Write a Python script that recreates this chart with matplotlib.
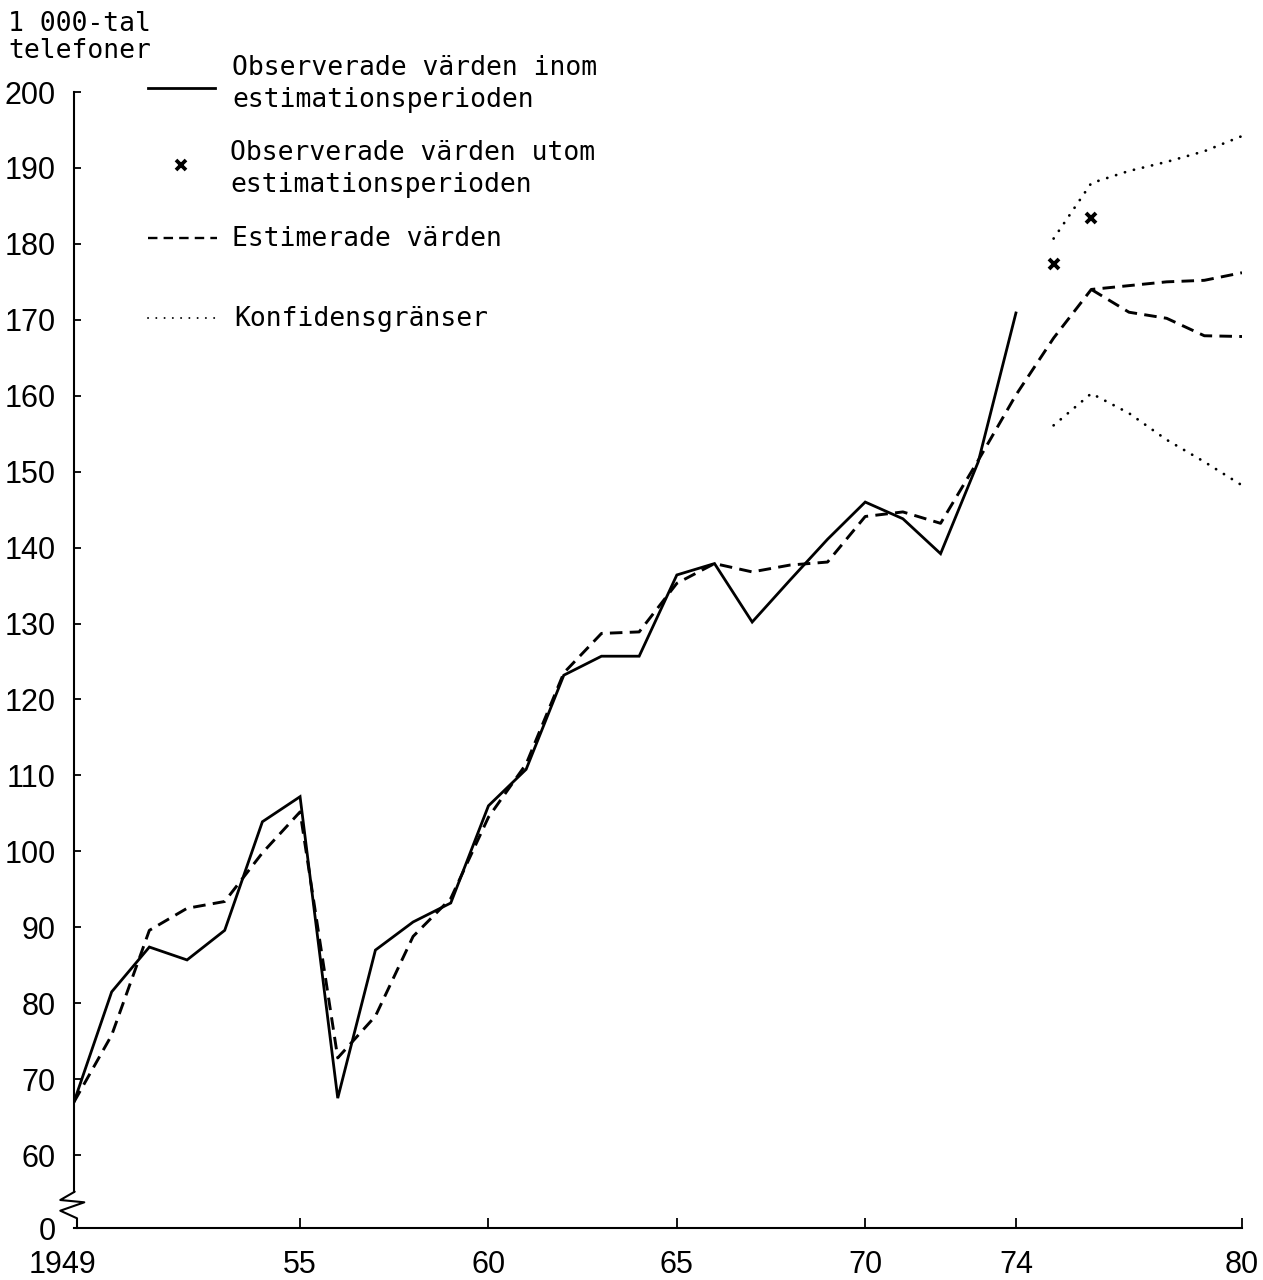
import matplotlib
matplotlib.use("Agg")
import matplotlib.pyplot as plt
import numpy as np
from matplotlib.transforms import ScaledTranslation

# observerade värden inom estimationsperioden (1000-tal telefoner)
obs_years = np.arange(1949, 1975)
observed = [67.0, 81.5, 87.4, 85.7, 89.6, 103.9, 107.2, 67.5, 87.0, 90.7,
            93.2, 106.0, 110.8, 123.2, 125.7, 125.7, 136.4, 137.9, 130.2, 135.7,
            141.1, 146.0, 143.8, 139.2, 151.3, 170.9]

# observerade värden utom estimationsperioden
out_years = [1975, 1976]
observed_out = [177.4, 183.4]

# estimerade värden
est_years = np.arange(1949, 1981)
estimated = [67.0, 75.8, 89.6, 92.5, 93.4, 99.8, 105.2, 72.8, 78.3, 88.8,
             93.8, 104.5, 111.5, 123.5, 128.7, 128.9, 135.3, 137.9, 136.8, 137.7,
             138.1, 144.1, 144.7, 143.2, 151.5, 160.1, 167.6, 174.0,
             174.5, 175.0, 175.2, 176.2]
alt_years = np.arange(1976, 1981)
estimated_alt = [174.0, 171.0, 170.2, 167.9, 167.8]

# konfidensgränser
conf_years = np.arange(1975, 1981)
conf_upper = [180.7, 188.0, 189.6, 190.8, 192.2, 194.2]
conf_lower = [156.1, 160.3, 157.7, 154.2, 151.3, 148.2]

xtick_years = [1949, 1955, 1960, 1965, 1970, 1974, 1980]
xtick_labels = ["1949", "55", "60", "65", "70", "74", "80"]
ytick_vals = list(range(60, 201, 10))
y_base = 50.4   # where the broken axis puts 0

mono = "DejaVu Sans Mono"
num_font = ["Liberation Sans", "DejaVu Sans"]

fig = plt.figure(figsize=(12.63, 12.8), dpi=100)
ax = fig.add_axes([74 / 1263, 52 / 1280, 1168 / 1263, 1136 / 1280])

lw = 2.0
dots = dict(color="black", lw=2.0, dashes=(0.05, 3.3), dash_capstyle="round")
ax.plot(obs_years, observed, color="black", lw=lw, solid_joinstyle="miter")
ax.plot(est_years, estimated, color="black", lw=2.1, dashes=(4.3, 2.5))
ax.plot(alt_years, estimated_alt, color="black", lw=2.1, dashes=(4.3, 2.5))
ax.plot(conf_years, conf_upper, **dots)
ax.plot(conf_years, conf_lower, **dots)
ax.plot(out_years, observed_out, linestyle="none", marker="x", color="black",
        markersize=7, markeredgewidth=2.8)

ax.set_xlim(1949, 1980)
ax.set_ylim(y_base, 200)

ax.set_xticks(xtick_years)
ax.set_xticklabels(xtick_labels)
ax.set_yticks([y_base] + ytick_vals)
ax.set_yticklabels(["0"] + [str(v) for v in ytick_vals])
ax.tick_params(axis="x", direction="in", length=7, width=1.3, pad=16,
               labelsize=22)
ax.tick_params(axis="y", direction="in", length=5, width=1.3, pad=13,
               labelsize=22)
for lab in ax.get_xticklabels() + ax.get_yticklabels():
    lab.set_family(num_font)
ax.xaxis.get_major_ticks()[0].tick1line.set_visible(False)
ax.yaxis.get_major_ticks()[0].tick1line.set_visible(False)
# nudge the year label a little to the left
lab0 = ax.get_xticklabels()[0]
lab0.set_transform(lab0.get_transform() + ScaledTranslation(-12 / 100, 0, fig.dpi_scale_trans))

for s in ["top", "right", "left"]:
    ax.spines[s].set_visible(False)
ax.spines["bottom"].set_linewidth(1.5)

# left axis with the break between 0 and 60
W, H = 1168.0, 1136.0
zx = np.array([0, 0, 0.7, -13.7, 10.3, -13.7, 3, 3]) / W
zy = np.array([H, 36.3, 36.3, 28, 25.7, 17.3, 9.7, 0]) / H
ax.plot(zx, zy, transform=ax.transAxes, color="black", lw=1.5, clip_on=False)

# legend
def fx(px):
    return (px - 74) / W

def fy(py):
    return (1228 - py) / H

tkw = dict(transform=ax.transAxes, fontsize=19, family=mono, va="center",
           ha="left", linespacing=1.3)
ax.plot([fx(148), fx(215)], [fy(88), fy(88)], transform=ax.transAxes,
        color="black", lw=2.0, clip_on=False)
ax.text(fx(232), fy(84), "Observerade värden inom\nestimationsperioden", **tkw)
ax.plot([fx(181)], [fy(165)], transform=ax.transAxes, marker="x",
        color="black", markersize=7, markeredgewidth=2.7, clip_on=False)
ax.text(fx(230), fy(169), "Observerade värden utom\nestimationsperioden", **tkw)
ax.plot([fx(148), fx(217)], [fy(238), fy(238)], transform=ax.transAxes,
        color="black", lw=1.7, dashes=(4, 2.6), clip_on=False)
ax.text(fx(232), fy(239), "Estimerade värden", **tkw)
ax.plot([fx(148), fx(218)], [fy(318), fy(318)], transform=ax.transAxes,
        color="black", lw=1.4, dashes=(0.05, 4.2), dash_capstyle="round",
        clip_on=False)
ax.text(fx(234), fy(319), "Konfidensgränser", **tkw)

fig.text(8 / 1263, 1 - 11 / 1280, "1 000-tal\ntelefoner", fontsize=19,
         family=mono, va="top", ha="left", linespacing=1.05)

fig.savefig("out.png", dpi=100)
